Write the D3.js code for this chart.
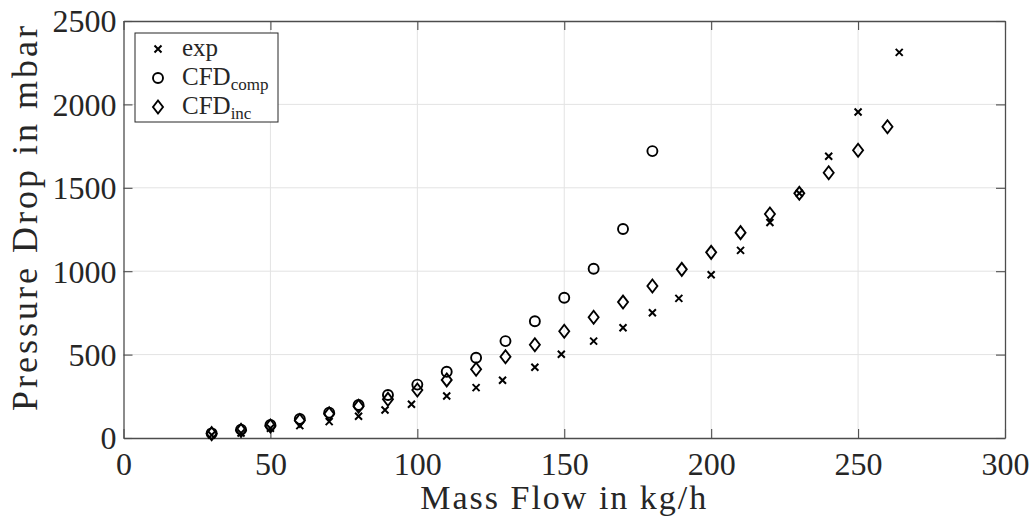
<!DOCTYPE html>
<html>
<head>
<meta charset="utf-8">
<script src="https://cdn.jsdelivr.net/npm/d3@7"></script>
<style>
body { margin: 0; background: #fff; }
text { font-family: "Liberation Serif", "DejaVu Serif", serif; fill: #262626; }
</style>
</head>
<body>
<div id="container"></div>
<script>

var expX  = [30, 40, 50, 60, 70, 80, 89, 98, 110, 120, 129, 140, 149, 160, 170, 180, 189, 200, 210, 220, 230, 240, 250, 264];
var expY  = [18, 30, 58, 74, 98, 130, 168, 202, 252, 302, 346, 424, 502, 581, 661, 751, 837, 979, 1125, 1292, 1467, 1689, 1954, 2312];

var compX = [30, 40, 50, 60, 70, 80, 90, 100, 110, 120, 130, 140, 150, 160, 170, 180];
var compY = [28, 50, 78, 114, 152, 198, 258, 320, 397, 481, 581, 700, 841, 1015, 1253, 1720];

var incX  = [30, 40, 50, 60, 70, 80, 90, 100, 110, 120, 130, 140, 150, 160, 170, 180, 190, 200, 210, 220, 230, 240, 250, 260];
var incY  = [26, 46, 72, 105, 145, 190, 232, 288, 348, 412, 487, 559, 640, 724, 815, 911, 1011, 1113, 1231, 1343, 1467, 1590, 1725, 1866];

var xTicks = [0, 50, 100, 150, 200, 250, 300];
var yTicks = [0, 500, 1000, 1500, 2000, 2500];

var W = 1032, H = 518;
var pLeft = 123.5, pRight = 1005, pTop = 21, pBottom = 438;

var svg = d3.select("#container").append("svg")
    .attr("width", W)
    .attr("height", H);

var x = d3.scaleLinear().domain([0, 300]).range([pLeft, pRight]);
var y = d3.scaleLinear().domain([0, 2500]).range([pBottom, pTop]);

// grid
svg.append("g").selectAll("line").data(xTicks.slice(1, -1)).enter().append("line")
    .attr("x1", function(d){ return x(d); }).attr("x2", function(d){ return x(d); })
    .attr("y1", pTop).attr("y2", pBottom)
    .attr("stroke", "#e3e3e3").attr("stroke-width", 1);
svg.append("g").selectAll("line").data(yTicks.slice(1, -1)).enter().append("line")
    .attr("y1", function(d){ return y(d); }).attr("y2", function(d){ return y(d); })
    .attr("x1", pLeft).attr("x2", pRight)
    .attr("stroke", "#e3e3e3").attr("stroke-width", 1);

// axes (ticks pointing inward, box on)
var axisColor = "#4d4d4d";
var tickLen = 9;
var fmt = d3.format("d");

var gx = svg.append("g").attr("transform", "translate(0," + pBottom + ")")
    .call(d3.axisBottom(x).tickValues(xTicks).tickFormat(fmt).tickSizeInner(-tickLen).tickSizeOuter(0).tickPadding(14));
var gxTop = svg.append("g").attr("transform", "translate(0," + pTop + ")")
    .call(d3.axisTop(x).tickValues(xTicks).tickSizeInner(-tickLen).tickSizeOuter(0).tickFormat(""));
var gy = svg.append("g").attr("transform", "translate(" + pLeft + ",0)")
    .call(d3.axisLeft(y).tickValues(yTicks).tickFormat(fmt).tickSizeInner(-tickLen).tickSizeOuter(0).tickPadding(7));
var gyRight = svg.append("g").attr("transform", "translate(" + pRight + ",0)")
    .call(d3.axisRight(y).tickValues(yTicks).tickSizeInner(-tickLen).tickSizeOuter(0).tickFormat(""));

[gx, gxTop, gy, gyRight].forEach(function(g){
    g.select(".domain").attr("stroke", axisColor).attr("stroke-width", 1.3);
    g.selectAll(".tick line").attr("stroke", axisColor).attr("stroke-width", 1.1);
    g.selectAll(".tick text").attr("fill", "#262626")
        .style("font-family", "'Liberation Serif', serif").style("font-size", "32px");
});
gx.selectAll(".tick text").attr("dy", "0.71em");
gy.selectAll(".tick text").attr("dy", "0.34em");

// markers
var ink = "#000";
function cross(g, cx, cy){
    var s = 3.5;
    g.append("path")
        .attr("d", "M" + (cx - s) + "," + (cy - s) + "L" + (cx + s) + "," + (cy + s) +
                   "M" + (cx - s) + "," + (cy + s) + "L" + (cx + s) + "," + (cy - s))
        .attr("stroke", ink).attr("stroke-width", 2).attr("fill", "none");
}
function circle(g, cx, cy){
    g.append("circle").attr("cx", cx).attr("cy", cy).attr("r", 5)
        .attr("stroke", ink).attr("stroke-width", 1.9).attr("fill", "none");
}
function diamond(g, cx, cy){
    var w = 5, h = 6.5;
    g.append("path")
        .attr("d", "M" + cx + "," + (cy - h) + "L" + (cx + w) + "," + cy + "L" + cx + "," + (cy + h) + "L" + (cx - w) + "," + cy + "Z")
        .attr("stroke", ink).attr("stroke-width", 1.9).attr("fill", "none");
}

var marks = svg.append("g");
expX.forEach(function(d, i){ cross(marks, x(d), y(expY[i])); });
compX.forEach(function(d, i){ circle(marks, x(d), y(compY[i])); });
incX.forEach(function(d, i){ diamond(marks, x(d), y(incY[i])); });

// axis labels
svg.append("text")
    .attr("x", (pLeft + pRight) / 2).attr("y", 509)
    .attr("text-anchor", "middle")
    .style("font-size", "34px")
    .style("letter-spacing", "2px")
    .text("Mass Flow in kg/h");

svg.append("text")
    .attr("transform", "translate(37,217) rotate(-90)")
    .attr("text-anchor", "middle")
    .style("font-size", "36px")
    .style("letter-spacing", "3px")
    .text("Pressure Drop in mbar");

// legend
var lg = svg.append("g");
lg.append("rect").attr("x", 135).attr("y", 33).attr("width", 143).attr("height", 89)
    .attr("fill", "#fff").attr("stroke", "#262626").attr("stroke-width", 1);

var legendItems = [
    { name: "exp", sub: "", draw: cross },
    { name: "CFD", sub: "comp", draw: circle },
    { name: "CFD", sub: "inc", draw: diamond }
];
legendItems.forEach(function(d, i){
    var ly = 49 + i * 29;
    d.draw(lg, 158, ly);
    var t = lg.append("text").attr("x", 182).attr("y", ly + 7).style("font-size", "25px");
    t.append("tspan").text(d.name);
    if (d.sub) t.append("tspan").attr("dy", 5).style("font-size", "17px").text(d.sub);
});

</script>
</body>
</html>
